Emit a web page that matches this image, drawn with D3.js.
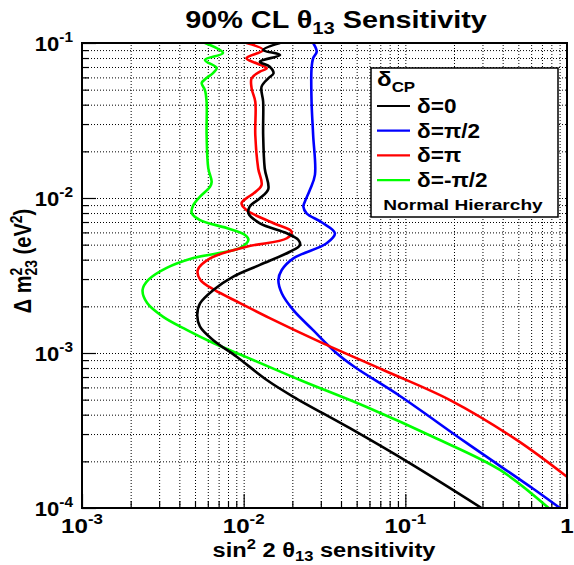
<!DOCTYPE html>
<html><head><meta charset="utf-8">
<script src="https://cdn.jsdelivr.net/npm/d3@7"></script>
<style>
body{margin:0;background:#fff}
svg{display:block}
text{font-family:"Liberation Sans",Arial,Helvetica,sans-serif;font-weight:bold;fill:#000}
</style>
</head><body>
<svg id="c" width="574" height="565"></svg>
<script>
// ---------------- data ----------------
const seriesNames = ["δ=0", "δ=π/2", "δ=π", "δ=-π/2"];
const seriesColors = ["#000000", "#0000ff", "#ff0000", "#00ff00"];

// δ = 0 (black)
const dm2Black  = [0.1, 0.0901, 0.0837, 0.0758, 0.0703, 0.0637, 0.0592, 0.0522, 0.0418, 0.0255, 0.0155, 0.0114, 0.00996, 0.00879, 0.00797, 0.00687, 0.00592, 0.00536, 0.00497, 0.0045, 0.0037, 0.00311, 0.00255, 0.00209, 0.00176, 0.00148, 0.00121, 0.000946, 0.00067, 0.000522, 0.000327, 0.000194, 0.0001];
const sensBlack = [0.0168, 0.0132, 0.0168, 0.0126, 0.0145, 0.0153, 0.0142, 0.0129, 0.0132, 0.0132, 0.0135, 0.0142, 0.0126, 0.0109, 0.0107, 0.0126, 0.0185, 0.0218, 0.0223, 0.0193, 0.0126, 0.00863, 0.00649, 0.00537, 0.00516, 0.00537, 0.00649, 0.00905, 0.0139, 0.0203, 0.0454, 0.107, 0.296];

// δ = π/2 (blue)
const dm2Blue  = [0.1, 0.0879, 0.0797, 0.0687, 0.0418, 0.0255, 0.0141, 0.0113, 0.00946, 0.00879, 0.00797, 0.00695, 0.00592, 0.0051, 0.00408, 0.00343, 0.00296, 0.00243, 0.00189, 0.00141, 0.000996, 0.000812, 0.000528, 0.000263, 0.000133, 0.0001];
const sensBlue = [0.0269, 0.0283, 0.0269, 0.0263, 0.0263, 0.0269, 0.0276, 0.0257, 0.0239, 0.0234, 0.0245, 0.0305, 0.0367, 0.0326, 0.0203, 0.0172, 0.0164, 0.0172, 0.0203, 0.0268, 0.0376, 0.0486, 0.0926, 0.239, 0.618, 0.904];

// δ = π (red)
const dm2Red  = [0.1, 0.0901, 0.0797, 0.074, 0.0687, 0.0653, 0.0592, 0.051, 0.0418, 0.0255, 0.0155, 0.0121, 0.0107, 0.00996, 0.00924, 0.00837, 0.00687, 0.00606, 0.0055, 0.00485, 0.00408, 0.00343, 0.00296, 0.00255, 0.0021, 0.00168, 0.00118, 0.000777, 0.000497, 0.000275, 0.000159];
const sensRed = [0.0104, 0.0132, 0.0104, 0.012, 0.0139, 0.0126, 0.0112, 0.0112, 0.0118, 0.0118, 0.0123, 0.0129, 0.0115, 0.0104, 0.0097, 0.0104, 0.0153, 0.0198, 0.0185, 0.0104, 0.0062, 0.0052, 0.0054, 0.0066, 0.0095, 0.0145, 0.0296, 0.073, 0.189, 0.488, 1.0];

// δ = -π/2 (green)
const dm2Green  = [0.1, 0.0862, 0.0777, 0.069, 0.064, 0.0594, 0.0552, 0.0497, 0.0416, 0.0255, 0.0156, 0.0127, 0.0118, 0.0102, 0.009, 0.008, 0.0072, 0.0064, 0.00577, 0.00536, 0.00476, 0.0041, 0.00354, 0.00296, 0.00255, 0.0021, 0.00171, 0.00141, 0.00116, 0.00094, 0.00067, 0.000448, 0.000287, 0.000176, 0.0001];
const sensGreen = [0.00576, 0.00745, 0.00576, 0.00681, 0.00646, 0.0059, 0.0055, 0.00576, 0.0059, 0.0059, 0.00604, 0.00634, 0.00619, 0.00537, 0.00488, 0.00477, 0.00537, 0.00785, 0.0102, 0.0107, 0.0095, 0.00488, 0.00334, 0.00257, 0.00237, 0.00253, 0.00318, 0.00444, 0.00649, 0.0104, 0.0223, 0.0576, 0.149, 0.385, 0.77];

const xMajorTicks = [1e-3, 1e-2, 1e-1, 1];
const xTickLabels = ["10^-3", "10^-2", "10^-1", "1"];
const yMajorTicks = [1e-4, 1e-3, 1e-2, 1e-1];
const yTickLabels = ["10^-4", "10^-3", "10^-2", "10^-1"];

const titleParts  = [["90% CL ", ""], ["θ", ""], ["13", "sub"], [" Sensitivity", ""]];
const xTitleParts = [["sin", ""], ["2", "sup"], [" 2 θ", ""], ["13", "sub"], [" sensitivity", ""]];
const legendHeader = [["δ", ""], ["CP", "sub"]];
const legendNote = "Normal Hierarchy";

// ---------------- layout ----------------
const svg = d3.select("#c");
const M = {l: 82, r: 567, t: 43, b: 508};
const x = d3.scaleLog().domain([1e-3, 1]).range([M.l, M.r]);
const y = d3.scaleLog().domain([1e-4, 1e-1]).range([M.b, M.t]);

function decadeValues(lo, hi) {
  const out = [];
  for (let e = lo; e < hi; e++) for (let k = 1; k < 10; k++) out.push(+(k * Math.pow(10, e)).toPrecision(3));
  out.push(Math.pow(10, hi));
  return out;
}
const xAll = decadeValues(-3, 0);
const yAll = decadeValues(-4, -1);
const isMajor = v => Math.abs(Math.log10(v) - Math.round(Math.log10(v))) < 1e-6;

// grid
const gx = svg.append("g").attr("transform", `translate(0,${M.b})`)
  .call(d3.axisBottom(x).tickValues(xAll.slice(1, -1)).tickSize(-(M.b - M.t)).tickFormat(""));
const gy = svg.append("g").attr("transform", `translate(${M.l},0)`)
  .call(d3.axisLeft(y).tickValues(yAll.slice(1, -1)).tickSize(-(M.r - M.l)).tickFormat(""));
[gx, gy].forEach(g => {
  g.select(".domain").remove();
  g.selectAll("line").attr("stroke", "#000").attr("stroke-width", 1).attr("stroke-dasharray", "1,2");
});

// ticks (inward)
function tickAxis(axisFn, scale, vals, size, tr) {
  const g = svg.append("g").attr("transform", tr).call(axisFn(scale).tickValues(vals).tickSize(-size).tickFormat(""));
  g.select(".domain").remove();
  g.selectAll("line").attr("stroke", "#000").attr("stroke-width", 1.2);
}
tickAxis(d3.axisBottom, x, xAll.filter(v => !isMajor(v)), 7, `translate(0,${M.b})`);
tickAxis(d3.axisBottom, x, xAll.filter(isMajor), 14, `translate(0,${M.b})`);
tickAxis(d3.axisLeft, y, yAll.filter(v => !isMajor(v)), 7, `translate(${M.l},0)`);
tickAxis(d3.axisLeft, y, yAll.filter(isMajor), 14, `translate(${M.l},0)`);

// curves
svg.append("clipPath").attr("id", "clip").append("rect")
  .attr("x", M.l).attr("y", M.t).attr("width", M.r - M.l).attr("height", M.b - M.t);
const series = [
  {dm2: dm2Black, s: sensBlack},
  {dm2: dm2Blue, s: sensBlue},
  {dm2: dm2Red, s: sensRed},
  {dm2: dm2Green, s: sensGreen}
];
const line = d3.line().x(d => x(d[0])).y(d => y(d[1])).curve(d3.curveCatmullRom.alpha(0.5));
const drawOrder = [3, 1, 2, 0];
drawOrder.forEach(i => {
  const pts = series[i].s.map((v, j) => [v, series[i].dm2[j]]);
  svg.append("path").attr("d", line(pts)).attr("fill", "none")
    .attr("stroke", seriesColors[i]).attr("stroke-width", 2.6)
    .attr("stroke-linejoin", "round").attr("clip-path", "url(#clip)");
});

// frame
svg.append("rect").attr("x", M.l).attr("y", M.t).attr("width", M.r - M.l).attr("height", M.b - M.t)
  .attr("fill", "none").attr("stroke", "#000").attr("stroke-width", 2);

// text helpers
function rich(sel, parts, fs, subK = 0.3) {
  let cur = 0;
  parts.forEach(([t, kind]) => {
    const target = kind === "sub" ? fs * subK : kind === "sup" ? -fs * 0.42 : 0;
    sel.append("tspan").text(t).attr("dy", target - cur)
      .style("font-size", (kind ? fs * 0.7 : fs) + "px");
    cur = target;
  });
  return sel;
}
function powParts(lbl) {
  const p = lbl.split("^");
  return p.length > 1 ? [[p[0], ""], [p[1], "sup"]] : [[p[0], ""]];
}
// horizontal stretch around the text anchor (the reference is horizontally widened)
function stretch(sel, s) {
  const ax = +sel.attr("x"), ay = +sel.attr("y");
  sel.attr("transform", `translate(${ax},${ay}) scale(${s},1) translate(${-ax},${-ay})`);
  return sel;
}
function fitWidth(sel, w) {
  const bw = sel.node().getBBox().width;
  return stretch(sel, w / bw);
}
const SX = 1.15;

// tick labels
xMajorTicks.forEach((v, i) => {
  stretch(rich(svg.append("text").attr("x", x(v)).attr("y", 533).attr("text-anchor", "middle"), powParts(xTickLabels[i]), 21), SX);
});
yMajorTicks.forEach((v, i) => {
  stretch(rich(svg.append("text").attr("x", 73).attr("y", y(v) + 8).attr("text-anchor", "end"), powParts(yTickLabels[i]), 21), 1.05);
});

// title
fitWidth(rich(svg.append("text").attr("x", 336).attr("y", 28).attr("text-anchor", "middle"), titleParts, 23, 0.25), 302);
// x title
fitWidth(rich(svg.append("text").attr("x", 324).attr("y", 557).attr("text-anchor", "middle"), xTitleParts, 20, 0.2), 224);
// y title: Δ m (2 over 23) (eV^2)
const yt = svg.append("text").attr("text-anchor", "middle").attr("transform", "translate(31,261) rotate(-90) scale(1,1.15)").style("font-size", "20px");
yt.append("tspan").text("Δ m");
yt.append("tspan").text("2").style("font-size", "14px").attr("dy", -8);
yt.append("tspan").text("23").style("font-size", "14px").attr("dx", -7.8).attr("dy", 13);
yt.append("tspan").text(" (eV").attr("dy", -5);
yt.append("tspan").text("2").style("font-size", "14px").attr("dy", -8);
yt.append("tspan").text(")").attr("dy", 8);

// legend
const L = {x: 371, y: 68, w: 187, h: 149};
svg.append("rect").attr("x", L.x).attr("y", L.y).attr("width", L.w).attr("height", L.h)
  .attr("fill", "#fff").attr("stroke", "#000").attr("stroke-width", 1.5);
stretch(rich(svg.append("text").attr("x", 377).attr("y", 86), legendHeader, 21, 0.3), SX);
seriesNames.forEach((name, i) => {
  const yy = 106 + i * 24.7;
  svg.append("line").attr("x1", 377).attr("x2", 410).attr("y1", yy).attr("y2", yy)
    .attr("stroke", seriesColors[i]).attr("stroke-width", 2.2);
  stretch(svg.append("text").attr("x", 417).attr("y", yy + 7).style("font-size", "20px").text(name), 1.13);
});
fitWidth(svg.append("text").attr("x", 463).attr("y", 210).attr("text-anchor", "middle").style("font-size", "15.5px").text(legendNote), 160);
</script>
</body></html>
